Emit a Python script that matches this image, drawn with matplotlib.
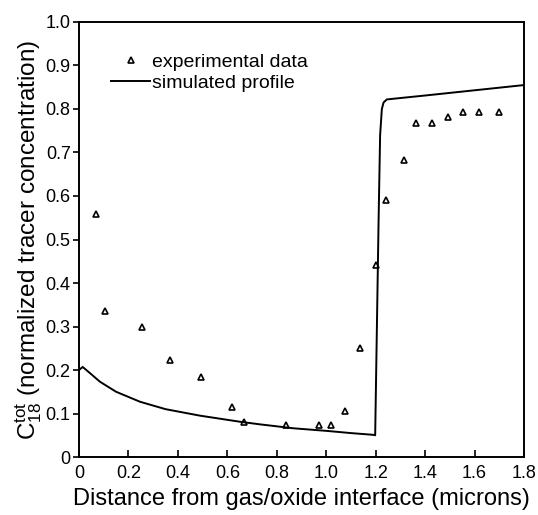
import matplotlib
matplotlib.use("Agg")
import matplotlib.pyplot as plt
import numpy as np

# experimental data (triangles)
exp_x = [0.069, 0.107, 0.254, 0.368, 0.494, 0.618, 0.669, 0.837, 0.972, 1.02,
         1.077, 1.135, 1.201, 1.243, 1.316, 1.363, 1.428, 1.491, 1.552, 1.617, 1.70]
exp_y = [0.558, 0.336, 0.298, 0.223, 0.185, 0.116, 0.081, 0.074, 0.074, 0.074,
         0.106, 0.250, 0.441, 0.591, 0.683, 0.767, 0.767, 0.782, 0.794, 0.794, 0.794]

# simulated profile (line)
sim_x = [0.0, 0.015, 0.04, 0.085, 0.15, 0.247, 0.35, 0.49, 0.652, 0.733, 0.868,
         1.003, 1.10, 1.19, 1.198, 1.205, 1.212, 1.218, 1.225, 1.232, 1.245, 1.40,
         1.60, 1.80]
sim_y = [0.200, 0.207, 0.195, 0.173, 0.150, 0.127, 0.110, 0.095, 0.081, 0.075, 0.066,
         0.060, 0.055, 0.051, 0.050, 0.30, 0.55, 0.74, 0.80, 0.815, 0.822, 0.831,
         0.843, 0.855]

xticks = [0, 0.2, 0.4, 0.6, 0.8, 1.0, 1.2, 1.4, 1.6, 1.8]
xticklabels = ["0", "0.2", "0.4", "0.6", "0.8", "1.0", "1.2", "1.4", "1.6", "1.8"]
yticks = [0, 0.1, 0.2, 0.3, 0.4, 0.5, 0.6, 0.7, 0.8, 0.9, 1.0]
yticklabels = ["0", "0.1", "0.2", "0.3", "0.4", "0.5", "0.6", "0.7", "0.8", "0.9", "1.0"]

plt.rcParams['font.family'] = ['Liberation Sans', 'DejaVu Sans']
plt.rcParams['mathtext.fontset'] = 'custom'
plt.rcParams['mathtext.rm'] = 'Liberation Sans'

fig = plt.figure(figsize=(5.38, 5.15), dpi=100)
ax = fig.add_axes([0.1468, 0.1126, 0.8272, 0.8447])

ax.plot(exp_x, exp_y, linestyle='none', marker='^', markersize=5,
        markerfacecolor='white', markeredgecolor='black', markeredgewidth=1.2,
        label='experimental data')
ax.plot(sim_x, sim_y, color='black', linewidth=1.4, label='simulated profile')

ax.set_xlim(0, 1.8)
ax.set_ylim(0, 1.0)
ax.set_xticks(xticks)
ax.set_xticklabels(xticklabels)
ax.set_yticks(yticks)
ax.set_yticklabels(yticklabels)
ax.tick_params(axis='x', direction='in', length=5, width=1.2, labelsize=13, pad=6)
ax.tick_params(axis='y', direction='out', length=4, width=1.2, labelsize=13, pad=2)
for s in ax.spines.values():
    s.set_linewidth(1.4)

ax.set_xlabel('Distance from gas/oxide interface (microns)', fontsize=17, labelpad=4)
ax.set_ylabel(r'$\mathregular{C^{tot}_{18}}$ (normalized tracer concentration)', fontsize=17.5, labelpad=1)

ax.legend(loc='upper left', bbox_to_anchor=(0.055, 0.945), frameon=False, fontsize=14,
          handlelength=2.0, handletextpad=0.1, labelspacing=0.15, borderaxespad=0)

fig.savefig('out.png', dpi=100)
